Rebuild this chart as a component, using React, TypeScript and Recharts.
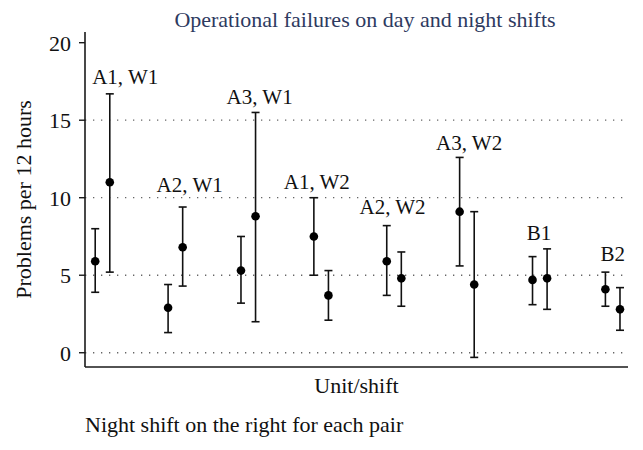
import React from "react";
import { ScatterChart, Scatter, XAxis, YAxis, ErrorBar, ReferenceLine } from "recharts";

// unit/shift pairs, day shift left, night shift right
const units = ["A1, W1", "A2, W1", "A3, W1", "A1, W2", "A2, W2", "A3, W2", "B1", "B2"];

const dayMean = [5.9, 2.9, 5.3, 7.5, 5.9, 9.1, 4.7, 4.1];
const dayLow = [3.9, 1.3, 3.2, 5.0, 3.7, 5.6, 3.1, 3.0];
const dayHigh = [8.0, 4.4, 7.5, 10.0, 8.2, 12.6, 6.2, 5.2];

const nightMean = [11.0, 6.8, 8.8, 3.7, 4.8, 4.4, 4.8, 2.8];
const nightLow = [5.2, 4.3, 2.0, 2.1, 3.0, -0.3, 2.8, 1.45];
const nightHigh = [16.7, 9.4, 15.5, 5.3, 6.5, 9.1, 6.7, 4.2];

// slot positions on the x scale
const dayPos = [1, 6, 11, 16, 21, 26, 31, 36];
const nightPos = [2, 7, 12, 17, 22, 27, 32, 37];

// annotation anchors (data units)
const labelX = [3.06, 7.48, 12.28, 16.2, 21.4, 26.65, 31.45, 36.5];
const labelY = [17.8, 10.8, 16.5, 11.0, 9.4, 13.5, 7.7, 6.4];

const yTicks = [0, 5, 10, 15, 20];
const gridValues = [0, 5, 10, 15];

const FONT = "Liberation Serif";

const dayData = units.map((u, i) => ({
  x: dayPos[i],
  y: dayMean[i],
  err: [dayMean[i] - dayLow[i], dayHigh[i] - dayMean[i]],
}));

const nightData = units.map((u, i) => ({
  x: nightPos[i],
  y: nightMean[i],
  err: [nightMean[i] - nightLow[i], nightHigh[i] - nightMean[i]],
}));

const labelData = units.map((u, i) => ({ x: labelX[i], y: labelY[i], name: u }));

const Dot = (props: any) => <circle cx={props.cx} cy={props.cy} r={4.3} fill="#000" />;

const LabelText = (props: any) => (
  <text
    x={props.cx}
    y={props.cy}
    textAnchor="middle"
    dominantBaseline="central"
    fontSize={21}
    fontFamily={FONT}
    fill="#111"
  >
    {props.payload.name}
  </text>
);

const App: React.FC = () => {
  return (
    <div style={{ position: "absolute", left: 0, top: 0, width: 643, height: 450, fontFamily: FONT, background: "#fff" }}>
      <div
        style={{
          position: "absolute",
          left: 0,
          width: 730,
          top: 9,
          textAlign: "center",
          fontSize: 22,
          lineHeight: "22px",
          color: "#2e3a5f",
          whiteSpace: "nowrap",
        }}
      >
        Operational failures on day and night shifts
      </div>

      <ScatterChart
        width={643}
        height={450}
        margin={{ top: 32, right: 15, bottom: 53, left: 0 }}
        style={{ fontFamily: FONT }}
      >
        <XAxis
          type="number"
          dataKey="x"
          domain={[0.3, 37.55]}
          height={30}
          tick={false}
          tickLine={false}
          axisLine={{ stroke: "#1a1a1a", strokeWidth: 1.6 }}
          label={{
            value: "Unit/shift",
            position: "insideTop",
            offset: 10,
            fontSize: 22,
            fontFamily: FONT,
            fill: "#111",
            style: { fontFamily: FONT },
          }}
        />
        <YAxis
          type="number"
          dataKey="y"
          width={85}
          domain={[-0.92, 20.69]}
          ticks={yTicks}
          tickSize={6}
          tickMargin={8}
          tick={{ fontSize: 22, fontFamily: FONT, fill: "#111", style: { fontFamily: FONT } }}
          tickLine={{ stroke: "#1a1a1a", strokeWidth: 1.4 }}
          axisLine={{ stroke: "#1a1a1a", strokeWidth: 1.6 }}
          label={{
            value: "Problems per 12 hours",
            angle: -90,
            position: "insideLeft",
            offset: 23,
            fontSize: 22,
            fontFamily: FONT,
            fill: "#111",
            style: { textAnchor: "middle", fontFamily: FONT },
          }}
        />
        {gridValues.map((v) => (
          <ReferenceLine key={v} y={v} stroke="#666" strokeWidth={1.3} strokeDasharray="1.3 6.7" />
        ))}
        <Scatter data={dayData} shape={Dot} isAnimationActive={false}>
          <ErrorBar dataKey="err" direction="y" width={4} stroke="#111" strokeWidth={1.6} />
        </Scatter>
        <Scatter data={nightData} shape={Dot} isAnimationActive={false}>
          <ErrorBar dataKey="err" direction="y" width={4} stroke="#111" strokeWidth={1.6} />
        </Scatter>
        <Scatter data={labelData} shape={LabelText} isAnimationActive={false} />
      </ScatterChart>

      <div
        style={{
          position: "absolute",
          left: 85,
          top: 414,
          fontSize: 22,
          lineHeight: "22px",
          color: "#111",
          whiteSpace: "nowrap",
        }}
      >
        Night shift on the right for each pair
      </div>
    </div>
  );
};

export default App;
